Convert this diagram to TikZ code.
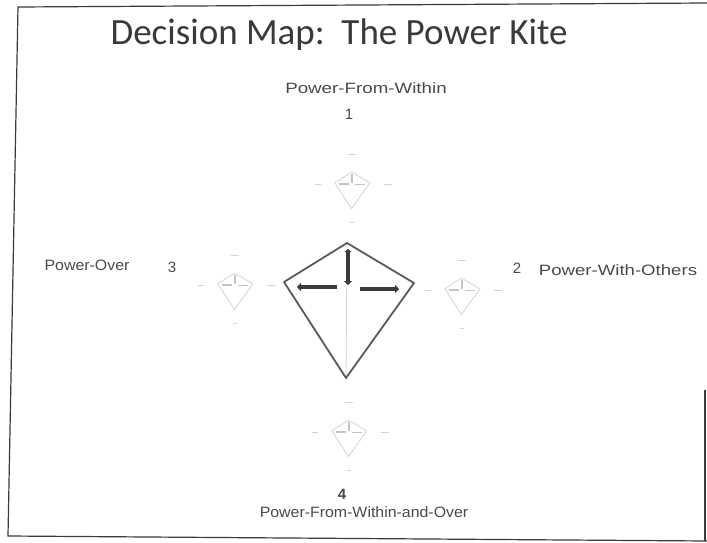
\documentclass[tikz,border=0pt]{standalone}
\usepackage{fontspec}
\setmainfont{Liberation Sans}
\newfontfamily\titlefont{Carlito}
\usetikzlibrary{arrows.meta}
\definecolor{ink}{HTML}{3A3A3A}
\definecolor{lab}{HTML}{4A4A4A}
\definecolor{kiteline}{HTML}{5A5A5A}
\definecolor{faint}{HTML}{D4D4D4}
\tikzset{
  lbl/.style={font=\fontsize{15}{15}\selectfont, text=lab, inner sep=0pt, anchor=base},
  num/.style={font=\fontsize{15}{15}\selectfont, text=lab, inner sep=0pt, anchor=base},
  ttl/.style={font=\titlefont\fontsize{37}{37}\selectfont, text=ink, inner sep=0pt, anchor=base},
  kiteedge/.style={draw=kiteline, line width=1.8pt, line join=round},
  kitearrow/.style={draw=ink, line width=4.5pt, -{Triangle[length=4pt,width=8pt]}},
  kitearrowtwo/.style={draw=ink, line width=4.5pt, {Triangle[length=3pt,width=7pt]}-{Triangle[length=4pt,width=8pt]}},
  minikite/.pic={
    \begin{scope}[scale=0.27]
      \draw[faint, line width=0.8pt, line join=round] (-1,-44) -- (66,-4) -- (-2,91) -- (-64,-5) -- cycle;
      \draw[faint!80!gray, line width=1.6pt] (0,-38) -- (0,-3);
      \draw[faint!80!gray, line width=1.4pt] (-50,0) -- (-11,0);
      \draw[faint!80!gray, line width=1.4pt] (12,2) -- (49,2);
    \end{scope}
    \draw[faint, line width=1pt] (-4,-30) -- (4,-30);
    \draw[faint, line width=1pt] (-37,0) -- (-31,0);
    \draw[faint, line width=1pt] (32,0) -- (40,0);
    \draw[faint, line width=1pt] (-2,38) -- (2,38);
  }
}
\begin{document}
\begin{tikzpicture}[x=1pt,y=-1pt]
\useasboundingbox (0,0) rectangle (707,543);
\fill[white] (0,0) rectangle (707,543);
% slide frame
\coordinate (tl) at (18,7);
\coordinate (tr) at (707,3);
\coordinate (bl) at (8,536);
\coordinate (br) at (707,541);
\draw[ink, line width=1.2pt] (tr) -- (tl) -- (bl) -- (br);
\draw[ink, line width=1.2pt] (705,390) -- (705,541);

% title
\node[ttl] (title) at (339,45) {Decision Map:~~The Power Kite};

% labels
\node[lbl, xscale=1.25] (within) at (366,93) {Power-From-Within};
\node[num] (n1) at (349,119) {1};
\node[lbl, xscale=1.06] (over) at (87,270) {Power-Over};
\node[num] (n3) at (172,272) {3};
\node[num] (n2) at (517,273) {2};
\node[lbl, xscale=1.24] (others) at (618,275) {Power-With-Others};
\node[num, font=\bfseries\fontsize{15}{15}\selectfont] (n4) at (342,499) {4};
\node[lbl, xscale=1.06] (withinover) at (364,517) {Power-From-Within-and-Over};

% main kite
\coordinate (c) at (348,287);
\coordinate (ktop) at (347,243);
\coordinate (kleft) at (284,282);
\coordinate (kright) at (414,283);
\coordinate (kbot) at (346,378);
\draw[faint, line width=0.8pt] (ktop) -- (kbot);
\draw[kiteedge] (ktop) -- (kright) -- (kbot) -- (kleft) -- cycle;
\coordinate (va) at (348,249);
\coordinate (vb) at (348,285);
\coordinate (la) at (337,287);
\coordinate (lb) at (297,287);
\coordinate (ra) at (360,289);
\coordinate (rb) at (399,289);
\draw[kitearrowtwo] (va) -- (vb);
\draw[kitearrow] (la) -- (lb);
\draw[kitearrow] (ra) -- (rb);

% faint small kites
\pic at (352,184) {minikite};
\pic at (235,285) {minikite};
\pic at (462,290) {minikite};
\pic at (349,432) {minikite};
\end{tikzpicture}
\end{document}
